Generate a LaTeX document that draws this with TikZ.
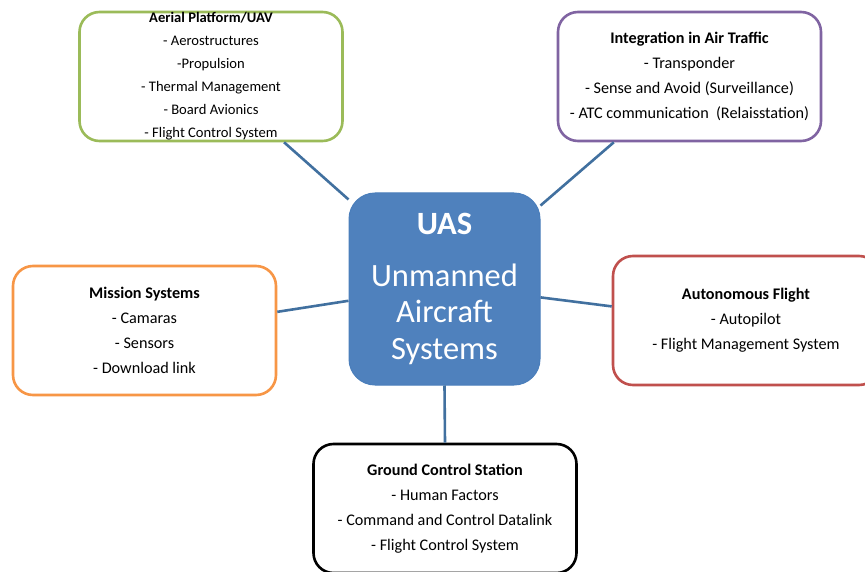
\documentclass[tikz,border=0pt]{standalone}
\usepackage{fontspec}
\setmainfont{Carlito}
\usepackage{tikz}
\usetikzlibrary{positioning}
\definecolor{uasblue}{HTML}{4F81BD}
\definecolor{uasedge}{HTML}{4A7EBB}
\definecolor{linkblue}{HTML}{41709F}
\definecolor{platgreen}{HTML}{9BBB59}
\definecolor{trafficpurple}{HTML}{8064A2}
\definecolor{missionorange}{HTML}{F79646}
\definecolor{autored}{HTML}{C0504D}
\tikzset{
  topic/.style={draw, line width=2.6pt, rounded corners=20pt, fill=white,
    align=center, inner sep=0pt, minimum width=263pt, minimum height=129pt,
    font=\fontsize{16.2}{25}\selectfont},
  hub/.style={draw=uasedge, fill=uasblue, line width=1pt, rounded corners=26pt,
    align=center, text=white, inner sep=0pt, minimum width=191pt,
    minimum height=192pt, font=\fontsize{32.5}{36.5}\selectfont},
  link/.style={draw=linkblue, line width=2.6pt}
}

\begin{document}
\begin{tikzpicture}[x=1pt, y=-1pt]
  \clip (0,0) rectangle (865,572);
  \fill[white] (0,0) rectangle (865,572);
  \node[hub] (uas) at (444.5,289) {\textbf{UAS}\\[15pt]Unmanned\\Aircraft\\Systems};
  \node[topic, draw=platgreen, font=\fontsize{14.6}{23}\selectfont] (platform) at (211,76.5)
    {\textbf{Aerial Platform/UAV}\\- Aerostructures\\-Propulsion\\- Thermal Management\\- Board Avionics\\- Flight Control System};
  \node[topic, draw=trafficpurple] (traffic) at (689.5,76.5)
    {\textbf{Integration in Air Traffic}\\- Transponder\\- Sense and Avoid (Surveillance)\\- ATC communication~ (Relaisstation)};
  \node[topic, draw=missionorange] (mission) at (144.5,330.5)
    {\textbf{Mission Systems}\\- Camaras\\- Sensors\\- Download link};
  \node[topic, draw=autored, minimum width=266pt] (auto) at (746,320.5)
    {\textbf{Autonomous Flight}\\- Autopilot\\- Flight Management System};
  \node[topic, draw=black] (ground) at (445,508.5)
    {\textbf{Ground Control Station}\\- Human Factors\\- Command and Control Datalink\\- Flight Control System};
  \draw[link] (platform.-42) -- (uas.137);
  \draw[link] (traffic.-139) -- (uas.41);
  \draw[link] (mission.8) -- (uas.187);
  \draw[link] (auto.174) -- (uas.-5);
  \draw[link] (ground.north) -- (uas.south);
\end{tikzpicture}
\end{document}
